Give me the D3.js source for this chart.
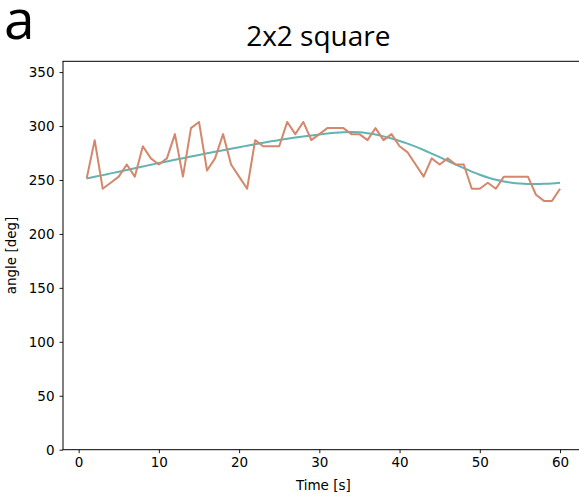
<!DOCTYPE html>
<html>
<head>
<meta charset="utf-8">
<script src="https://d3js.org/d3.v7.min.js"></script>
<style>
  html, body { margin: 0; padding: 0; background: #fff; }
  svg { display: block; }
  .tick text { font-family: "DejaVu Sans", sans-serif; font-size: 13.5px; fill: #000; }
</style>
</head>
<body>
<svg id="chart" width="579" height="498"></svg>
<script>
// Time axis (seconds)
const times = d3.range(1, 61);

// Measured heading angle per second [deg]
const measured = [
  251.3, 286.9, 241.9, 247.5, 253.1, 264.4, 253.1, 281.3, 270.0, 264.4,
  270.0, 292.5, 253.1, 298.1, 303.8, 258.8, 270.0, 292.5, 264.4, 253.1,
  241.9, 286.9, 281.3, 281.3, 281.3, 303.8, 292.5, 303.8, 286.9, 292.5,
  298.1, 298.1, 298.1, 292.5, 292.5, 286.9, 298.1, 286.9, 292.5, 281.3,
  275.6, 264.4, 253.1, 270.0, 264.4, 270.0, 264.4, 264.4, 241.9, 241.9,
  247.5, 241.9, 253.1, 253.1, 253.1, 253.1, 236.3, 230.6, 230.6, 241.9
];

// Smoothed fit of the heading angle [deg]
const fitted = [
  251.3, 252.9, 254.5, 256.1, 257.7, 259.3, 260.9, 262.5, 264.1, 265.7,
  267.2, 268.7, 270.2, 271.7, 273.2, 274.7, 276.2, 277.6, 279.0, 280.4,
  281.8, 283.2, 284.5, 285.8, 287.0, 288.2, 289.3, 290.3, 291.3, 292.2,
  293.0, 293.7, 294.2, 294.4, 294.2, 293.4, 292.1, 290.4, 288.4, 286.2,
  283.7, 280.9, 277.8, 274.5, 271.1, 267.7, 264.3, 261.0, 257.8, 254.9,
  252.3, 250.2, 248.6, 247.4, 246.7, 246.3, 246.2, 246.4, 246.8, 247.4
];

const xTicks = [0, 10, 20, 30, 40, 50, 60];
const yTicks = [0, 50, 100, 150, 200, 250, 300, 350];

const panelLetter = "a";
const title = "2x2 square";
const xLabel = "Time [s]";
const yLabel = "angle [deg]";

const svg = d3.select("#chart");

const plot = { left: 63, right: 583.7, top: 61.3, bottom: 449.7 };

const x = d3.scaleLinear().domain([-1.95, 62.95]).range([plot.left, plot.right]);
const y = d3.scaleLinear().domain([0, 360]).range([plot.bottom, plot.top]);

// panel letter and title
svg.append("text")
  .attr("x", 4).attr("y", 39)
  .attr("font-family", "Open Sans, sans-serif")
  .attr("font-size", 55)
  .attr("fill", "#000")
  .text(panelLetter);

svg.append("text")
  .attr("x", (plot.left + plot.right) / 2 - 5).attr("y", 46)
  .attr("text-anchor", "middle")
  .attr("font-family", "Open Sans, sans-serif")
  .attr("font-size", 28)
  .attr("fill", "#000")
  .text(title);

// series
const lineFit = d3.line()
  .x((d, i) => x(times[i]))
  .y(d => y(d))
  .curve(d3.curveMonotoneX);

const lineMeasured = d3.line()
  .x((d, i) => x(times[i]))
  .y(d => y(d));

svg.append("path")
  .datum(fitted)
  .attr("d", lineFit)
  .attr("fill", "none")
  .attr("stroke", "#62b3b3")
  .attr("stroke-width", 2);

svg.append("path")
  .datum(measured)
  .attr("d", lineMeasured)
  .attr("fill", "none")
  .attr("stroke", "#d5876c")
  .attr("stroke-width", 2)
  .attr("stroke-linejoin", "round");

// axes
const xAxis = d3.axisBottom(x).tickValues(xTicks).tickSize(3.5).tickPadding(4).tickFormat(d3.format("d"));
const yAxis = d3.axisLeft(y).tickValues(yTicks).tickSize(3.5).tickPadding(5).tickFormat(d3.format("d"));

const gx = svg.append("g").attr("transform", `translate(0,${plot.bottom})`).call(xAxis);
const gy = svg.append("g").attr("transform", `translate(${plot.left},0)`).call(yAxis);
gx.select(".domain").remove();
gy.select(".domain").remove();
gx.selectAll(".tick line").attr("stroke", "#000").attr("stroke-width", 0.9);
gy.selectAll(".tick line").attr("stroke", "#000").attr("stroke-width", 0.9);

// spines (left, bottom, top)
svg.append("line").attr("x1", plot.left).attr("x2", plot.left)
  .attr("y1", plot.top).attr("y2", plot.bottom).attr("stroke", "#000").attr("stroke-width", 1);
svg.append("line").attr("x1", plot.left - 0.5).attr("x2", plot.right)
  .attr("y1", plot.bottom).attr("y2", plot.bottom).attr("stroke", "#000").attr("stroke-width", 1);
svg.append("line").attr("x1", plot.left - 0.5).attr("x2", plot.right)
  .attr("y1", plot.top).attr("y2", plot.top).attr("stroke", "#000").attr("stroke-width", 1);

// axis labels
svg.append("text")
  .attr("x", (plot.left + plot.right) / 2).attr("y", 490)
  .attr("text-anchor", "middle")
  .attr("font-family", "DejaVu Sans, sans-serif")
  .attr("font-size", 13.5)
  .text(xLabel);

svg.append("text")
  .attr("transform", `translate(16,${(plot.top + plot.bottom) / 2}) rotate(-90)`)
  .attr("text-anchor", "middle")
  .attr("font-family", "DejaVu Sans, sans-serif")
  .attr("font-size", 13.5)
  .text(yLabel);
</script>
</body>
</html>
